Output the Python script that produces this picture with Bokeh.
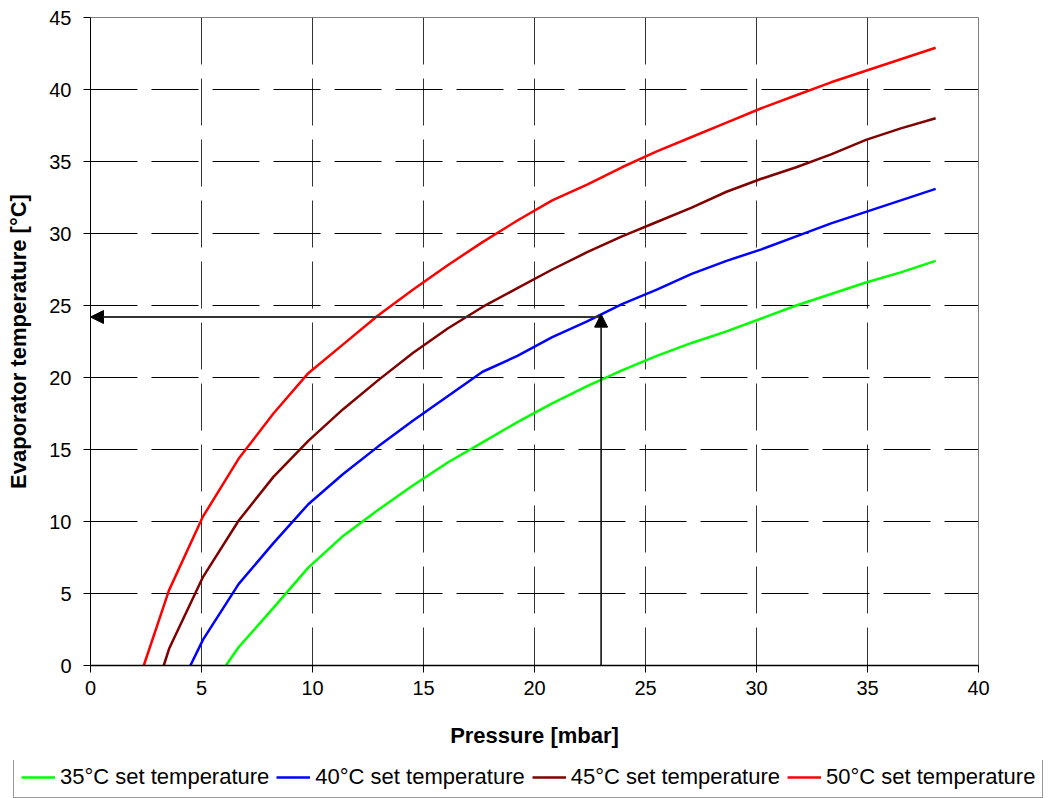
from bokeh.plotting import figure
from bokeh.models import (Legend, LegendItem, Arrow, NormalHead, FixedTicker)
from bokeh.embed import file_html
from bokeh.resources import INLINE

# ---- data ----
p35 = [6.1, 6.67, 8.24, 9.81, 11.38, 12.95, 14.52, 16.09, 17.66, 19.23, 20.8,
       22.37, 23.94, 25.51, 27.08, 28.65, 30.22, 31.79, 33.36, 34.93, 36.5, 38.07]
t35 = [0, 1.27, 4.0, 6.8, 9.0, 10.8, 12.5, 14.1, 15.5, 16.9, 18.2,
       19.4, 20.5, 21.5, 22.4, 23.2, 24.1, 25.0, 25.8, 26.6, 27.3, 28.1]

p40 = [4.5, 5.07, 6.67, 8.24, 9.81, 11.38, 12.95, 14.52, 16.09, 17.66, 19.23, 20.8,
       22.37, 23.94, 25.51, 27.08, 28.65, 30.22, 31.79, 33.36, 34.93, 36.5, 38.07]
t40 = [0, 1.8, 5.65, 8.5, 11.2, 13.3, 15.2, 17.0, 18.7, 20.4, 21.5, 22.8,
       23.9, 25.1, 26.1, 27.2, 28.1, 28.9, 29.8, 30.7, 31.5, 32.3, 33.1]

p45 = [3.3, 3.55, 5.05, 6.67, 8.24, 9.81, 11.38, 12.95, 14.52, 16.09, 17.66, 19.23, 20.8,
       22.37, 23.94, 25.51, 27.08, 28.65, 30.22, 31.79, 33.36, 34.93, 36.5, 38.07]
t45 = [0, 1.2, 6.1, 10.05, 13.1, 15.6, 17.8, 19.8, 21.7, 23.4, 24.9, 26.2, 27.5,
       28.7, 29.8, 30.8, 31.8, 32.9, 33.8, 34.6, 35.5, 36.5, 37.3, 38.0]

p50 = [2.4, 3.53, 5.05, 6.67, 8.24, 9.81, 11.38, 12.95, 14.52, 16.09, 17.66, 19.23, 20.8,
       22.37, 23.94, 25.51, 27.08, 28.65, 30.22, 31.79, 33.36, 34.93, 36.5, 38.07]
t50 = [0, 5.2, 10.3, 14.35, 17.5, 20.3, 22.3, 24.3, 26.1, 27.8, 29.4, 30.9, 32.3,
       33.4, 34.6, 35.7, 36.7, 37.7, 38.7, 39.6, 40.5, 41.3, 42.1, 42.9]

series_labels = ["35°C set temperature", "40°C set temperature",
                 "45°C set temperature", "50°C set temperature"]
series_colors = ["#00FF00", "#0000FF", "#800000", "#FF0000"]

x_ticks = [0, 5, 10, 15, 20, 25, 30, 35, 40]
y_ticks = [0, 5, 10, 15, 20, 25, 30, 35, 40, 45]

read_pressure = 23.0   # mbar
read_temp = 24.2       # °C (horizontal reading line)
read_temp_tip = 24.4   # °C (vertical arrow tip)

FONT = "Liberation Sans"

p = figure(width=1050, height=760, x_range=(0, 40), y_range=(0, 45),
           output_backend="svg", toolbar_location=None,
           min_border_left=90, min_border_right=72,
           min_border_top=17, min_border_bottom=95)
p.background_fill_color = "white"
p.border_fill_color = "white"
p.outline_line_color = "#808080"
p.outline_line_width = 1

# axes
p.xaxis.ticker = FixedTicker(ticks=x_ticks)
p.yaxis.ticker = FixedTicker(ticks=y_ticks)
for ax in (p.xaxis, p.yaxis):
    ax.axis_line_color = "black"
    ax.axis_line_width = 1
    ax.major_tick_line_color = "black"
    ax.major_tick_out = 7
    ax.major_tick_in = 0
    ax.minor_tick_line_color = None
    ax.major_label_text_font = FONT
    ax.major_label_text_font_size = "20px"
    ax.major_label_text_color = "black"
    ax.axis_label_text_font = FONT
    ax.axis_label_text_font_size = "22px"
    ax.axis_label_text_font_style = "bold"
    ax.axis_label_text_color = "black"
p.xaxis.axis_line_width = 1.5
p.xaxis.axis_label = "Pressure [mbar]"
p.yaxis.axis_label = "Evaporator temperature [°C]"
p.xaxis.major_label_standoff = 8
p.yaxis.major_label_standoff = 12
p.xaxis.axis_label_standoff = 25
p.yaxis.axis_label_standoff = 15

# grid
p.xgrid.ticker = FixedTicker(ticks=x_ticks)
p.ygrid.ticker = FixedTicker(ticks=y_ticks)
p.xgrid.grid_line_color = "#333333"
p.ygrid.grid_line_color = "black"
p.xgrid.grid_line_width = 1
p.ygrid.grid_line_width = 1
p.xgrid.grid_line_dash = "47 14"
p.ygrid.grid_line_dash = "47 14"
p.xgrid.grid_line_dash_offset = 9
p.ygrid.grid_line_dash_offset = 0

# curves
xs = [p35, p40, p45, p50]
ys = [t35, t40, t45, t50]
for x, y, c in zip(xs, ys, series_colors):
    p.line(x, y, line_color=c, line_width=2.5)

# reading arrows
p.add_layout(Arrow(end=NormalHead(size=13, fill_color="black", line_color="black"),
                   x_start=read_pressure, y_start=read_temp, x_end=0, y_end=read_temp,
                   line_color="#333333", line_width=2))
p.add_layout(Arrow(end=NormalHead(size=13, fill_color="black", line_color="black"),
                   x_start=read_pressure, y_start=0, x_end=read_pressure, y_end=read_temp_tip,
                   line_color="black", line_width=1.5))

# legend strip below the chart (its own canvas without axes)
lf = figure(width=1050, height=38, x_range=(0, 1), y_range=(0, 1),
            x_axis_location=None, y_axis_location=None,
            output_backend="svg", toolbar_location=None,
            min_border_left=0, min_border_right=0, min_border_top=0, min_border_bottom=0)
lf.grid.visible = False
lf.outline_line_color = None
lf.background_fill_color = "white"
lf.border_fill_color = "white"
items = []
for x, y, c, lab in zip(xs, ys, series_colors, series_labels):
    # the same series (outside this strip's view) act as the legend's samples
    r = lf.line(x, y, line_color=c, line_width=2.5)
    items.append(LegendItem(label=lab, renderers=[r]))

legend = Legend(items=items, orientation="horizontal", location=(13, 0),
                label_text_font=FONT, label_text_font_size="22px",
                label_text_color="black", label_height=22,
                glyph_width=34, glyph_height=22, label_standoff=5, spacing=7,
                padding=7, margin=0,
                border_line_color="#333333", border_line_width=1,
                background_fill_color="white", background_fill_alpha=1)
lf.add_layout(legend, "center")

html = file_html([p, lf], INLINE)
html = html.replace("<head>", "<head><style>html,body{margin:0;padding:0;line-height:0;}</style>", 1)
open("out.html", "w").write(html)
